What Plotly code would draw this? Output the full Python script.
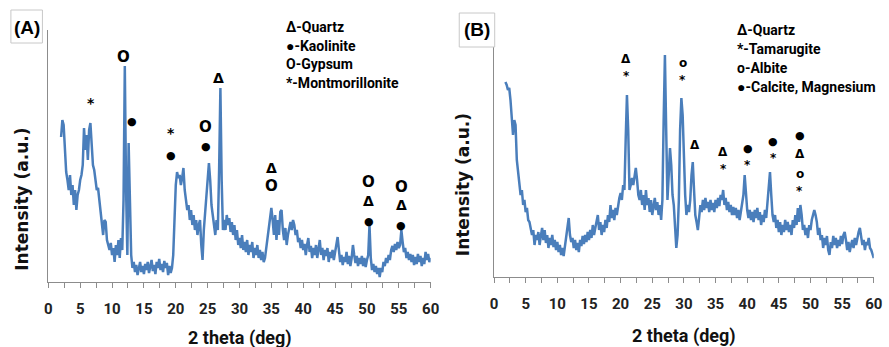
import plotly.graph_objects as go

# ---------------- data ----------------
two_theta_a_start = 2.0
two_theta_b_start = 1.8
step = 0.2

intensity_a = [
    145, 162, 157, 132, 110, 102, 92, 107, 87, 97,            # 2.0 - 3.8
    77, 92, 72, 87, 92, 102, 107, 117, 154, 132,              # 4.0 - 5.8
    147, 122, 152, 159, 132, 117, 112, 102, 92, 94,           # 6.0 - 7.8
    82, 67, 57, 47, 62, 60, 42, 37, 32, 39,                   # 8.0 - 9.8
    27, 34, 20, 37, 27, 42, 24, 44, 32, 82,                   # 10.0 - 11.8
    216, 92, 27, 139, 82, 27, 14, 20, 10, 17,                 # 12.0 - 13.8
    7, 14, 20, 10, 16, 8, 18, 12, 20, 9,                      # 14.0 - 15.8
    15, 22, 11, 17, 8, 20, 14, 23, 12, 18,                    # 16.0 - 17.8
    10, 21, 14, 19, 7, 16, 9, 14, 27, 67,                     # 18.0 - 19.8
    97, 110, 104, 107, 97, 104, 114, 92, 82, 72,              # 20.0 - 21.8
    77, 62, 72, 57, 67, 52, 62, 47, 57, 62,                   # 22.0 - 23.8
    37, 22, 52, 67, 82, 97, 119, 102, 77, 67,                 # 24.0 - 25.8
    57, 47, 62, 52, 112, 194, 102, 52, 62, 52,                # 26.0 - 27.8
    67, 57, 64, 50, 60, 47, 57, 42, 52, 37,                   # 28.0 - 29.8
    44, 34, 47, 32, 40, 30, 42, 27, 37, 30,                   # 30.0 - 31.8
    40, 24, 34, 27, 37, 24, 32, 22, 30, 20,                   # 32.0 - 33.8
    24, 34, 42, 57, 67, 74, 62, 47, 67, 42,                   # 34.0 - 35.8
    62, 47, 70, 72, 52, 42, 54, 37, 47, 54,                   # 36.0 - 37.8
    60, 52, 62, 57, 47, 52, 40, 44, 34, 42,                   # 38.0 - 39.8
    32, 38, 27, 37, 44, 30, 36, 24, 34, 27,                   # 40.0 - 41.8
    37, 24, 32, 42, 27, 34, 22, 32, 26, 34,                   # 42.0 - 43.8
    20, 30, 24, 32, 22, 30, 34, 45, 32, 20,                   # 44.0 - 45.8
    27, 17, 25, 20, 30, 18, 26, 16, 24, 37,                   # 46.0 - 47.8
    27, 19, 26, 16, 24, 18, 26, 16, 24, 15,                   # 48.0 - 49.8
    22, 27, 57, 24, 12, 18, 10, 16, 8, 14,                    # 50.0 - 51.8
    5, 14, 10, 20, 16, 24, 19, 27, 22, 32,                    # 52.0 - 53.8
    36, 30, 38, 32, 40, 34, 37, 52, 40, 30,                   # 54.0 - 55.8
    34, 24, 30, 22, 28, 20, 27, 17, 25, 18,                   # 56.0 - 57.8
    28, 20, 26, 16, 24, 18, 30, 22, 28, 20,                   # 58.0 - 59.8
    24,                                                       # 60.0
]

intensity_b = [
    195,                                                      # 1.8
    192, 187, 189, 177, 162, 142, 157, 152, 117, 107,         # 2.0 - 3.8
    92, 82, 87, 72, 77, 65, 69, 57, 55, 49,                   # 4.0 - 5.8
    42, 47, 32, 42, 37, 45, 32, 41, 49, 37,                   # 6.0 - 7.8
    47, 34, 42, 29, 39, 32, 42, 30, 37, 27,                   # 8.0 - 9.8
    35, 25, 32, 22, 29, 21, 32, 39, 49, 59,                   # 10.0 - 11.8
    42, 35, 39, 29, 37, 27, 34, 25, 37, 31,                   # 12.0 - 13.8
    41, 33, 42, 35, 45, 37, 47, 39, 52, 42,                   # 14.0 - 15.8
    49, 55, 62, 47, 55, 42, 52, 45, 57, 49,                   # 16.0 - 17.8
    62, 55, 72, 59, 67, 57, 69, 62, 72, 79,                   # 18.0 - 19.8
    84, 77, 92, 87, 137, 182, 147, 87, 92, 99,                # 20.0 - 21.8
    92, 102, 109, 97, 82, 77, 87, 72, 82, 67,                 # 22.0 - 23.8
    87, 72, 79, 65, 77, 62, 72, 79, 67, 75,                   # 24.0 - 25.8
    62, 72, 57, 77, 157, 222, 147, 77, 102, 129,              # 26.0 - 27.8
    112, 82, 72, 52, 29, 42, 77, 147, 179, 162,               # 28.0 - 29.8
    107, 82, 62, 72, 65, 77, 102, 115, 87, 62,                # 30.0 - 31.8
    55, 47, 59, 72, 65, 77, 67, 79, 69, 75,                   # 32.0 - 33.8
    65, 77, 67, 74, 65, 77, 69, 79, 71, 82,                   # 34.0 - 35.8
    77, 87, 72, 79, 67, 75, 65, 72, 62, 70,                   # 36.0 - 37.8
    62, 69, 59, 67, 57, 65, 72, 82, 102, 82,                  # 38.0 - 39.8
    67, 59, 67, 57, 65, 55, 67, 59, 69, 57,                   # 40.0 - 41.8
    65, 52, 62, 55, 67, 59, 77, 92, 105, 82,                  # 42.0 - 43.8
    62, 55, 62, 49, 57, 45, 55, 42, 52, 45,                   # 44.0 - 45.8
    57, 47, 55, 45, 52, 42, 57, 49, 62, 52,                   # 46.0 - 47.8
    69, 55, 72, 62, 47, 52, 42, 49, 39, 52,                   # 48.0 - 49.8
    47, 57, 62, 67, 62, 55, 42, 49, 37, 42,                   # 50.0 - 51.8
    29, 39, 32, 41, 27, 22, 35, 29, 41, 32,                   # 52.0 - 53.8
    39, 29, 37, 31, 41, 33, 42, 45, 37, 27,                   # 54.0 - 55.8
    35, 25, 32, 37, 29, 39, 32, 41, 45, 49,                   # 56.0 - 57.8
    42, 32, 37, 27, 35, 32, 39, 29, 27, 22,                   # 58.0 - 59.8
    19,                                                       # 60.0
]

two_theta_a = [round(two_theta_a_start + i * step, 1) for i in range(len(intensity_a))]
two_theta_b = [round(two_theta_b_start + i * step, 1) for i in range(len(intensity_b))]

x_tick_values = [0, 5, 10, 15, 20, 25, 30, 35, 40, 45, 50, 55, 60]
x_tick_labels = [str(v) for v in x_tick_values]

legend_a = ["\u0394-Quartz", "\u25cf-Kaolinite", "O-Gypsum", "*-Montmorillonite"]
legend_b = ["\u0394-Quartz", "*-Tamarugite", "o-Albite", "\u25cf-Calcite, Magnesium"]

# peak markers: (2theta, height, symbol)
peaks_a = [
    (6.65, 179, "*"),
    (11.75, 225, "O"), (13.1, 160, "\u25cf"),
    (19.2, 149, "*"), (19.2, 127, "\u25cf"),
    (24.7, 155, "O"), (24.7, 136, "\u25cf"),
    (26.75, 204, "\u0394"),
    (35.0, 114, "\u0394"), (35.0, 96, "O"),
    (50.25, 100, "O"), (50.25, 81, "\u0394"), (50.25, 61, "\u25cf"),
    (55.4, 95, "O"), (55.4, 77, "\u0394"), (55.4, 57, "\u25cf"),
]
peaks_b = [
    (20.9, 218, "\u0394"), (20.9, 201, "*"),
    (27.0, 234, "\u0394"),
    (29.85, 232, "\u25cf"), (29.85, 214, "o"), (29.85, 197, "*"),
    (31.7, 132, "\u0394"),
    (36.2, 125, "\u0394"), (36.2, 108, "*"),
    (40.1, 128, "\u25cf"), (40.1, 112, "*"),
    (44.1, 135, "\u25cf"), (44.1, 119, "*"),
    (48.3, 141, "\u25cf"), (48.3, 123, "\u0394"), (48.3, 103, "o"), (48.3, 86, "*"),
]

# ---------------- figure ----------------
W, H = 889, 347
LINE = "#4A7EBB"
AX = "#8C8C8C"
TXT = "Roboto, sans-serif"

fig = go.Figure()
fig.add_trace(go.Scatter(x=two_theta_a, y=intensity_a, mode="lines",
                         line=dict(color=LINE, width=2.5), xaxis="x", yaxis="y",
                         showlegend=False, hoverinfo="skip"))
fig.add_trace(go.Scatter(x=two_theta_b, y=intensity_b, mode="lines",
                         line=dict(color=LINE, width=2.5), xaxis="x2", yaxis="y2",
                         showlegend=False, hoverinfo="skip"))


def px_x(p):
    return p / W


def px_y(p):
    return 1 - p / H


def xaxis(domain, anchor):
    return dict(domain=domain, anchor=anchor, range=[0, 60], showgrid=False, zeroline=False,
                showline=True, linecolor=AX, linewidth=1, ticks="outside", ticklen=5,
                tickcolor=AX, tickwidth=1, tickvals=x_tick_values,
                ticktext=["<b>%s</b>" % t for t in x_tick_labels],
                minor=dict(dtick=2.5, tick0=0, ticks="outside", ticklen=5, tickcolor=AX, tickwidth=1),
                tickfont=dict(family=TXT, size=15, color="#222222"),
                ticklabelstandoff=8, fixedrange=True)


def yaxis(domain, anchor, top):
    return dict(domain=domain, anchor=anchor, range=[0, top], showgrid=False, zeroline=False,
                showline=True, linecolor=AX, linewidth=1, ticks="", showticklabels=False,
                fixedrange=True)


fig.update_layout(
    width=W, height=H, margin=dict(l=0, r=0, t=0, b=0),
    paper_bgcolor="white", plot_bgcolor="white",
    xaxis=xaxis([px_x(45), px_x(433)], "y"),
    yaxis=yaxis([px_y(282), px_y(30)], "x", 252),
    xaxis2=xaxis([px_x(497.3), px_x(882.7)], "y2"),
    yaxis2=yaxis([px_y(277), px_y(47)], "x2", 230),
)

ann = []
for ref, peaks, base in (("", peaks_a, 14), ("2", peaks_b, 12)):
    for xv, yv, s in peaks:
        size = base
        if s == "\u25cf":
            size = 11
        elif s == "O":
            size = 15
        ann.append(dict(x=xv, y=yv, xref="x" + ref, yref="y" + ref, text="<b>%s</b>" % s,
                        showarrow=False, xanchor="center", yanchor="middle",
                        font=dict(family="DejaVu Sans", size=size, color="black")))

leg_font = dict(family=TXT, size=14, color="black")
for i, t in enumerate(legend_a):
    ann.append(dict(x=px_x(284), y=px_y(27 + i * 18.7), xref="paper", yref="paper",
                    text="<b>%s</b>" % t, showarrow=False, xanchor="left", yanchor="middle",
                    font=leg_font))
for i, t in enumerate(legend_b):
    ann.append(dict(x=px_x(742), y=px_y(30 + i * 19), xref="paper", yref="paper",
                    text="<b>%s</b>" % t, showarrow=False, xanchor="left", yanchor="middle",
                    font=leg_font))

# axis titles
title_font = dict(family=TXT, size=18, color="#111111")
ann.append(dict(x=px_x(239), y=px_y(338), xref="paper", yref="paper", text="<b>2 theta (deg)</b>",
                showarrow=False, xanchor="center", yanchor="middle", font=title_font))
ann.append(dict(x=px_x(690), y=px_y(336), xref="paper", yref="paper", text="<b>2 theta (deg)</b>",
                showarrow=False, xanchor="center", yanchor="middle", font=title_font))
ytitle_font = dict(family="DejaVu Sans", size=17, color="#111111")
ann.append(dict(x=px_x(18), y=px_y(199), xref="paper", yref="paper",
                text="<b>Intensity (a.u.)</b>", showarrow=False, textangle=-90,
                xanchor="center", yanchor="middle", font=ytitle_font))
ann.append(dict(x=px_x(466), y=px_y(185), xref="paper", yref="paper",
                text="<b>Intensity (a.u.)</b>", showarrow=False, textangle=-90,
                xanchor="center", yanchor="middle", font=ytitle_font))

# panel labels
panel_font = dict(family="Liberation Sans", size=19, color="black")
ann.append(dict(x=px_x(23), y=px_y(27), xref="paper", yref="paper", text="<b>(A)</b>",
                showarrow=False, xanchor="center", yanchor="middle", font=panel_font))
ann.append(dict(x=px_x(480), y=px_y(30), xref="paper", yref="paper", text="<b>(B)</b>",
                showarrow=False, xanchor="center", yanchor="middle", font=panel_font))
fig.update_layout(annotations=ann)

shapes = [
    dict(type="rect", xref="paper", yref="paper", x0=px_x(7), x1=px_x(39), y0=px_y(43), y1=px_y(10),
         line=dict(color="#C8C8C8", width=1)),
    dict(type="rect", xref="paper", yref="paper", x0=px_x(462), x1=px_x(498), y0=px_y(47), y1=px_y(13),
         line=dict(color="#C8C8C8", width=1)),
]
fig.update_layout(shapes=shapes)

fig.write_html("out.html")
